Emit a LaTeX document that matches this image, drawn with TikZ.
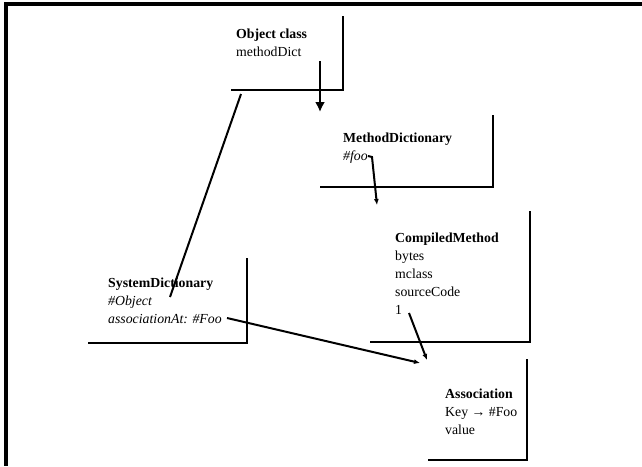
\documentclass[tikz,border=0pt]{standalone}
\usepackage{fontspec}
\setmainfont{Liberation Serif}
\usetikzlibrary{arrows.meta}
\begin{document}
\begin{tikzpicture}[x=1pt,y=-1pt,
  frameline/.style={line width=3.2pt},
  boxline/.style={line width=2.8pt},
  link/.style={line width=2pt},
  bigtip/.style={-{Latex[length=10pt,width=10pt]}},
  smalltip/.style={-{Latex[length=6pt,width=5pt]}},
  boxtext/.style={anchor=north west, inner sep=0pt, align=left,
    font=\fontsize{13.8}{18}\selectfont}]
\useasboundingbox (0,0) rectangle (642,466);

% outer frame: top and left edges only
\draw[frameline] (642,4) -- (6,4) -- (6,466);

% object boxes, each shown by its right and bottom edge
\draw[boxline] (231,90) -- (343,90) -- (343,16);
\draw[boxline] (320,187) -- (493,187) -- (493,115);
\draw[boxline] (370,342) -- (530,342) -- (530,211);
\draw[boxline] (88,343) -- (247,343) -- (247,258);
\draw[boxline] (428,460) -- (527,460) -- (527,359);

% box contents
\node[boxtext] (objT) at (236,28.6) {\textbf{Object class}\\methodDict};
\node[boxtext] (mdT) at (343,132.6) {\textbf{MethodDictionary}\\\textit{\#foo}};
\node[boxtext] (cmT) at (395,232.6) {\textbf{CompiledMethod}\\bytes\\mclass\\sourceCode\\1};
\node[boxtext] (sdT) at (108,277.6) {\textbf{SystemDictionary}\\\textit{\#Object}\\\textit{associationAt: \#Foo}};
\node[boxtext] (asT) at (445,388.6) {\textbf{Association}\\Key → \#Foo\\value};

% connector end points
\coordinate (methodDictRef) at (320,61);
\coordinate (mdTop) at (320,112);
\coordinate (fooRef) at (368,156);
\coordinate (fooBend) at (372,157);
\coordinate (cmTop) at (377,205);
\coordinate (objectRef) at (170,297);
\coordinate (objCorner) at (241,94);
\coordinate (assocRef) at (227,318);
\coordinate (asTopA) at (420,363);
\coordinate (literalRef) at (409,313);
\coordinate (asTopB) at (427,360);

% references between objects
\draw[link,bigtip] (methodDictRef) -- (mdTop);
\draw[link,smalltip] (fooRef) -- (fooBend) -- (cmTop);
\draw[link] (objectRef) -- (objCorner);
\draw[link,smalltip] (assocRef) -- (asTopA);
\draw[link,smalltip] (literalRef) -- (asTopB);
\end{tikzpicture}
\end{document}
